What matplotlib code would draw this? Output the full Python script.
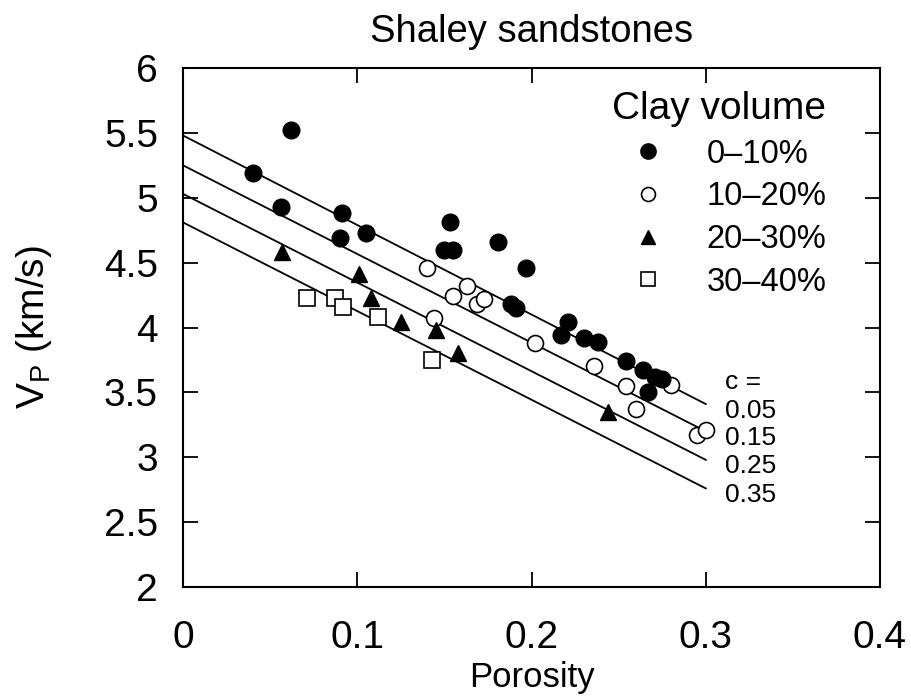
import matplotlib
matplotlib.use("Agg")
import matplotlib.pyplot as plt
from matplotlib.lines import Line2D

plt.rcParams['font.family'] = ['Liberation Sans', 'DejaVu Sans']
plt.rcParams['mathtext.fontset'] = 'custom'
plt.rcParams['mathtext.rm'] = 'Liberation Sans'

# ---- data ----
clay_0_10_phi = [0.062, 0.040, 0.056, 0.091, 0.090, 0.105, 0.153, 0.150, 0.155,
                 0.181, 0.197, 0.188, 0.191, 0.217, 0.221, 0.230, 0.238, 0.254,
                 0.264, 0.271, 0.275, 0.267]
clay_0_10_vp = [5.52, 5.19, 4.93, 4.88, 4.69, 4.73, 4.81, 4.60, 4.60,
                4.66, 4.46, 4.18, 4.15, 3.94, 4.04, 3.92, 3.89, 3.74,
                3.675, 3.62, 3.60, 3.50]

clay_10_20_phi = [0.140, 0.163, 0.155, 0.169, 0.173, 0.144, 0.202, 0.236, 0.254,
                  0.280, 0.260, 0.295, 0.300]
clay_10_20_vp = [4.46, 4.32, 4.24, 4.18, 4.22, 4.07, 3.88, 3.70, 3.55,
                 3.56, 3.37, 3.175, 3.21]

clay_20_30_phi = [0.057, 0.101, 0.108, 0.125, 0.145, 0.158, 0.244]
clay_20_30_vp = [4.58, 4.41, 4.23, 4.04, 3.98, 3.80, 3.35]

clay_30_40_phi = [0.071, 0.087, 0.092, 0.112, 0.143]
clay_30_40_vp = [4.23, 4.23, 4.16, 4.08, 3.75]

c_values = ['0.05', '0.15', '0.25', '0.35']
line_phi = [0.0, 0.3]
line_start_vp = [5.48, 5.25, 5.03, 4.81]
line_end_vp = [3.41, 3.20, 2.98, 2.76]

legend_labels = ['0\u201310%', '10\u201320%', '20\u201330%', '30\u201340%']

x_ticks = [0, 0.1, 0.2, 0.3, 0.4]
x_ticklabels = ['0', '0.1', '0.2', '0.3', '0.4']
y_ticks = [2, 2.5, 3, 3.5, 4, 4.5, 5, 5.5, 6]
y_ticklabels = ['2', '2.5', '3', '3.5', '4', '4.5', '5', '5.5', '6']

# ---- figure ----
fig = plt.figure(figsize=(9.12, 6.98), dpi=100)
ax = fig.add_axes([183/912, 1-587/698, (880-183)/912, (587-68)/698])

for s, e in zip(line_start_vp, line_end_vp):
    ax.plot(line_phi, [s, e], color='black', lw=1.3, zorder=1)

ax.plot(clay_0_10_phi, clay_0_10_vp, 'o', ms=12, mfc='black', mec='black',
        ls='none', zorder=3)
ax.plot(clay_10_20_phi, clay_10_20_vp, 'o', ms=11.5, mfc='white', mec='black',
        mew=1.2, ls='none', zorder=2)
ax.plot(clay_20_30_phi, clay_20_30_vp, '^', ms=11.5, mfc='black', mec='black',
        ls='none', zorder=3)
ax.plot(clay_30_40_phi, clay_30_40_vp, 's', ms=11, mfc='white', mec='black',
        mew=1.2, ls='none', zorder=2)

# c labels at the end of lines
ax.text(0.311, line_end_vp[0] + 0.17, 'c =', fontsize=19, va='center', ha='left')
for lab, e in zip(c_values, line_end_vp):
    ax.text(0.311, e - 0.05, lab, fontsize=19, va='center', ha='left')

lh = [Line2D([], [], marker='o', ms=11, mfc='black', mec='black', ls='none'),
      Line2D([], [], marker='o', ms=10, mfc='white', mec='black', mew=1.2, ls='none'),
      Line2D([], [], marker='^', ms=10, mfc='black', mec='black', ls='none'),
      Line2D([], [], marker='s', ms=10, mfc='white', mec='black', mew=1.2, ls='none')]
leg = ax.legend(lh, legend_labels, title='Clay volume', loc='upper right',
                bbox_to_anchor=(0.956, 1.0), frameon=False, fontsize=23.5,
                title_fontsize=28, handlelength=1.0, handletextpad=1.3,
                labelspacing=0.36, borderpad=0.2)
leg._legend_box.align = 'right'

ax.set_xlim(0, 0.4)
ax.set_ylim(2, 6)
ax.set_xticks(x_ticks)
ax.set_xticklabels(x_ticklabels)
ax.set_yticks(y_ticks)
ax.set_yticklabels(y_ticklabels)
ax.tick_params(direction='in', length=11, width=1.3, top=True, right=True,
               labelsize=28)
ax.tick_params(axis='x', pad=24)
ax.tick_params(axis='y', pad=18)
for sp in ax.spines.values():
    sp.set_linewidth(1.5)

ax.set_xlabel('Porosity', fontsize=25, labelpad=3)
ax.set_ylabel(r'V$_\mathregular{P}$ (km/s)', fontsize=28, labelpad=36)
ax.set_title('Shaley sandstones', fontsize=27.5, pad=19)

fig.savefig('out.png', dpi=100)
